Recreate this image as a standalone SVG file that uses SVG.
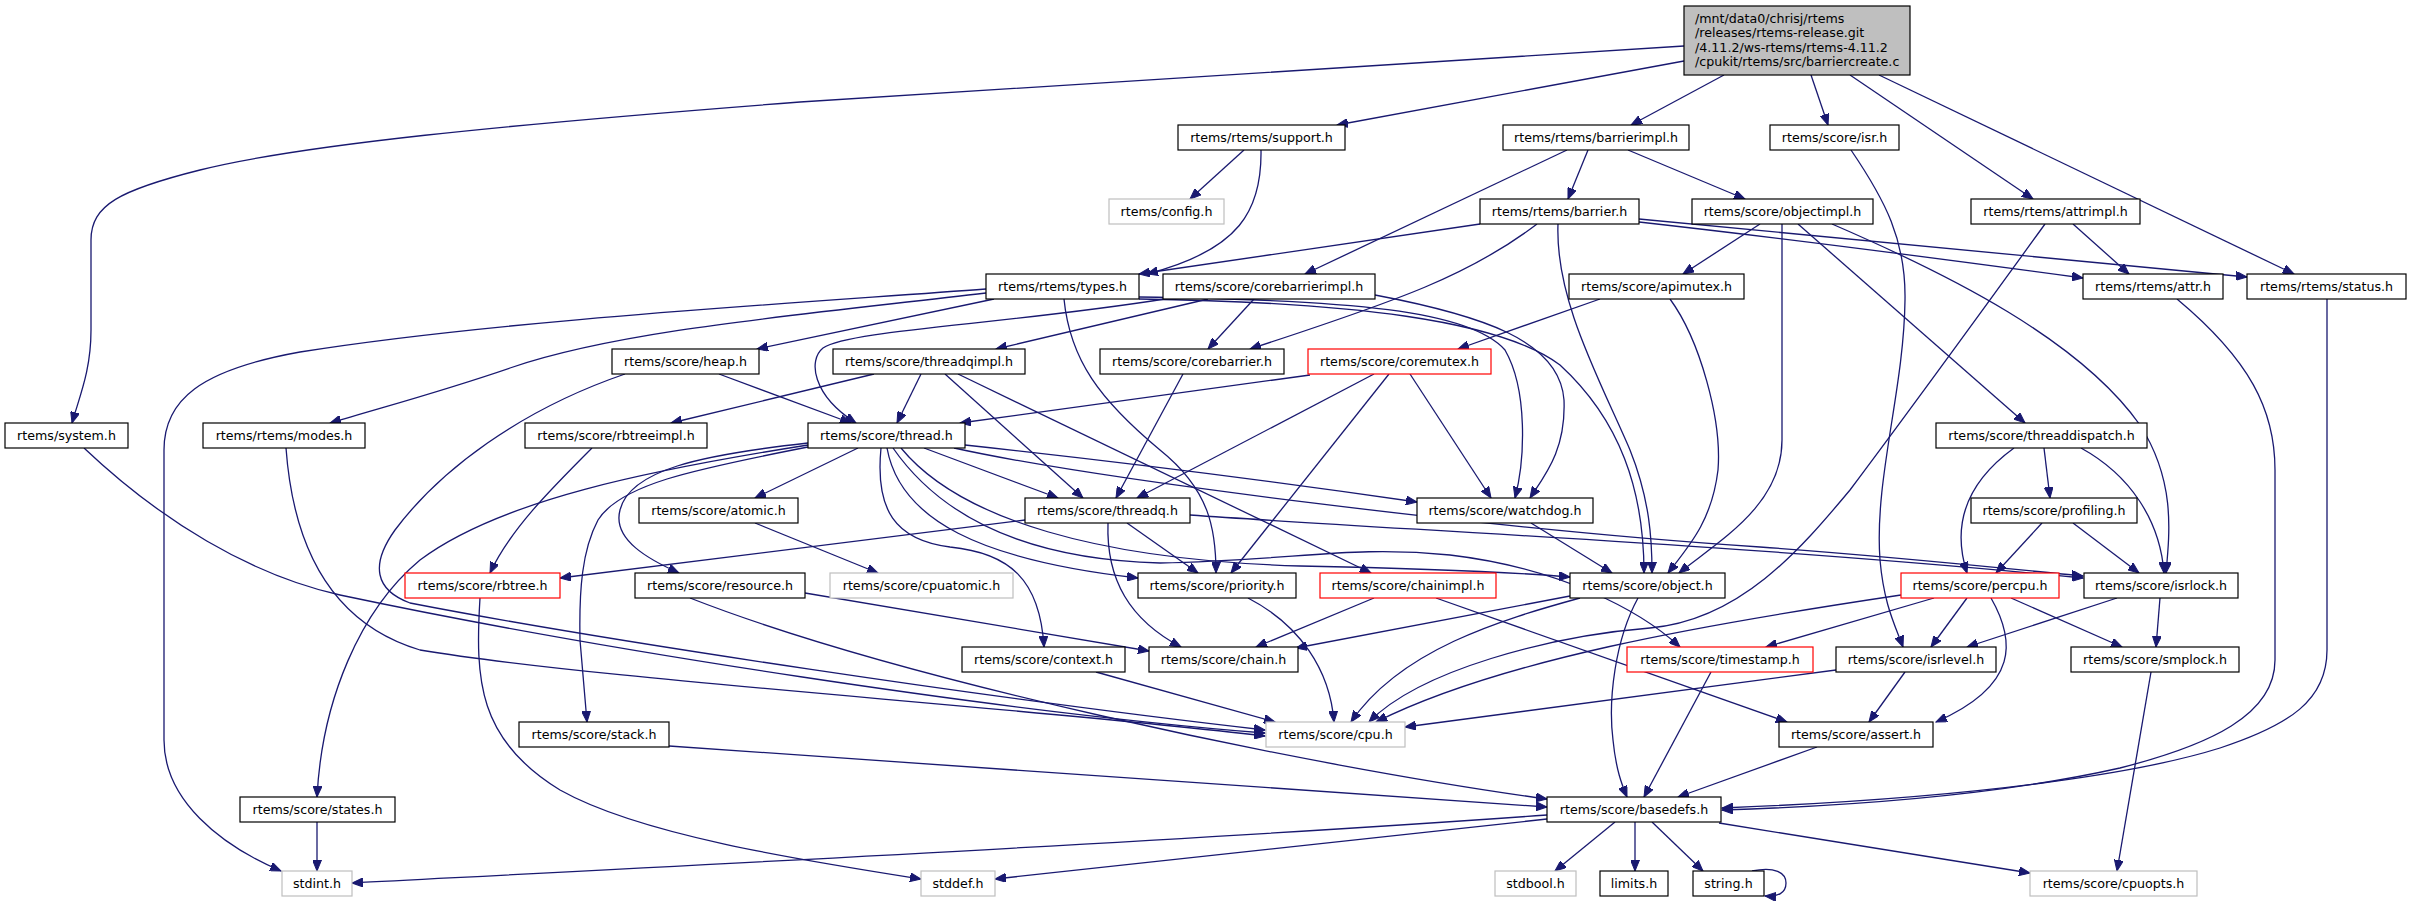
<svg xmlns="http://www.w3.org/2000/svg" width="2411" height="903" viewBox="0 0 2411 903">
<style>
rect{fill:#fff;stroke:#000;stroke-width:1.2}
rect.g{stroke:#bfbfbf}
rect.r{stroke:#ff0000}
rect.m{fill:#bfbfbf}
text{font-family:"DejaVu Sans","Liberation Sans",sans-serif;font-size:12.65px;fill:#000;text-anchor:middle}
text.l{text-anchor:start}
#edges path{fill:none;stroke:#191970;stroke-width:1.3;marker-end:url(#a)}
</style>
<defs>
<marker id="a" markerWidth="12" markerHeight="9" refX="11" refY="4.5" orient="auto" markerUnits="userSpaceOnUse"><path d="M0,0 L11,4.5 L0,9 z" fill="#191970" stroke="#191970" stroke-width="1"/></marker>
</defs>
<rect x="0" y="0" width="2411" height="903" style="fill:#fff;stroke:none"/>
<g id="edges">
<path d="M1684,46 L800,102 C500,125 300,145 200,170 C120,190 91,205 91,240 L91,330 C91,370 80,395 72,423"/>
<path d="M1684,61 L1337,125"/>
<path d="M1724,75 L1631,125"/>
<path d="M1811,75 L1828,125"/>
<path d="M1850,75 L2033,199"/>
<path d="M1879,75 L2294,274"/>
<path d="M1244,150 L1190,199"/>
<path d="M1261,150 C1262,210 1240,250 1147,274"/>
<path d="M1567,150 L1305,274"/>
<path d="M1588,150 L1568,199"/>
<path d="M1628,150 L1745,199"/>
<path d="M1851,150 C1885,200 1906,240 1905,300 C1904,390 1874,480 1880,560 C1884,605 1895,625 1903,647"/>
<path d="M2073,224 L2129,274"/>
<path d="M2045,224 C1990,300 1910,410 1850,490 C1800,550 1740,620 1650,628 C1550,636 1420,670 1369,722"/>
<path d="M2327,299 L2327,650 C2327,700 2290,725 2220,748 C2150,770 2000,797 1722,808"/>
<path d="M2177,299 C2250,360 2275,410 2275,470 L2275,660 C2275,715 2210,745 2120,768 C2000,795 1850,806 1722,810"/>
<path d="M1480,224 L1139,274"/>
<path d="M1537,224 C1470,275 1400,300 1250,349"/>
<path d="M1558,224 C1555,300 1600,380 1630,450 C1650,500 1652,540 1652,573"/>
<path d="M1639,222 C1800,240 1950,260 2083,278"/>
<path d="M1639,219 C1900,245 2100,262 2247,277"/>
<path d="M1760,224 L1683,274"/>
<path d="M1782,224 L1782,440 C1782,505 1720,540 1679,573"/>
<path d="M1798,224 L2025,423"/>
<path d="M1832,224 C1950,275 2080,340 2140,425 C2175,480 2170,530 2166,573"/>
<path d="M986,289 C800,303 500,320 300,352 C200,370 164,400 164,450 L164,740 C164,800 220,845 281,871"/>
<path d="M986,293 C800,315 620,330 510,368 C440,392 390,405 330,423"/>
<path d="M994,299 L757,349"/>
<path d="M1064,299 C1070,360 1100,400 1160,450 C1210,490 1216,530 1216,573"/>
<path d="M1139,297 C1350,300 1470,310 1505,350 C1528,390 1525,460 1515,498"/>
<path d="M1375,295 C1480,315 1560,340 1564,400 C1566,450 1545,475 1530,498"/>
<path d="M1139,299 C1350,302 1500,320 1560,365 C1620,420 1644,490 1644,573"/>
<path d="M1254,299 L1208,349"/>
<path d="M1208,299 L996,349"/>
<path d="M1165,299 C1000,325 850,330 823,348 C808,360 812,395 856,423"/>
<path d="M719,374 L851,423"/>
<path d="M625,374 C520,410 440,470 395,530 C370,565 375,590 410,603 C600,640 1000,700 1265,730"/>
<path d="M84,448 C160,520 250,575 340,595 C600,650 1000,712 1265,733"/>
<path d="M286,448 C292,530 320,620 420,650 C600,680 1000,705 1265,736"/>
<path d="M592,448 C550,490 510,530 490,573"/>
<path d="M874,374 L671,423"/>
<path d="M921,374 L897,423"/>
<path d="M945,374 L1083,498"/>
<path d="M958,374 L1371,573"/>
<path d="M1183,374 L1116,498"/>
<path d="M1310,375 L960,423"/>
<path d="M1374,374 L1137,498"/>
<path d="M1389,374 L1231,573"/>
<path d="M1410,374 L1491,498"/>
<path d="M1600,299 L1458,349"/>
<path d="M1670,299 C1700,340 1722,420 1718,470 C1712,520 1690,545 1668,573"/>
<path d="M2014,448 C1970,480 1950,520 1967,573"/>
<path d="M2044,448 L2050,498"/>
<path d="M2081,448 C2130,475 2160,520 2164,573"/>
<path d="M2042,523 L1996,573"/>
<path d="M2073,523 L2139,573"/>
<path d="M755,523 L878,573"/>
<path d="M1025,520 L560,578"/>
<path d="M1127,523 L1198,573"/>
<path d="M1108,523 C1106,580 1130,620 1181,647"/>
<path d="M1190,515 C1400,530 1750,545 2083,578"/>
<path d="M1531,523 L1612,573"/>
<path d="M858,448 L755,498"/>
<path d="M808,443 C700,455 630,470 620,510 C612,540 650,560 679,573"/>
<path d="M808,447 C690,470 620,485 598,520 C582,550 579,590 580,640 L587,722"/>
<path d="M808,445 C650,470 500,500 420,560 C360,610 322,700 317,797"/>
<path d="M881,448 C875,510 895,540 950,547 C1010,553 1040,580 1044,647"/>
<path d="M887,448 C900,520 980,560 1138,578"/>
<path d="M924,448 L1058,498"/>
<path d="M965,445 C1150,465 1300,485 1417,502"/>
<path d="M954,448 C1100,480 1500,530 1760,547 C1900,557 2000,568 2083,576"/>
<path d="M893,448 C950,530 1050,560 1160,563 C1300,560 1350,545 1450,555 C1560,568 1640,610 1680,647"/>
<path d="M901,448 C960,520 1100,560 1300,566 C1400,568 1500,571 1570,577"/>
<path d="M1248,598 C1300,625 1330,670 1334,722"/>
<path d="M1374,598 L1256,647"/>
<path d="M1436,598 L1787,722"/>
<path d="M1570,596 L1296,648"/>
<path d="M1580,598 C1500,620 1400,650 1351,722"/>
<path d="M1638,598 C1615,640 1608,700 1613,740 C1616,770 1622,785 1627,797"/>
<path d="M1901,595 C1700,625 1500,660 1376,722"/>
<path d="M1934,598 L1766,647"/>
<path d="M1967,598 L1931,647"/>
<path d="M1991,598 C2015,640 2020,685 1936,722"/>
<path d="M2011,598 L2122,647"/>
<path d="M2117,598 L1967,647"/>
<path d="M2160,598 L2156,647"/>
<path d="M1711,672 L1644,797"/>
<path d="M1836,670 L1405,727"/>
<path d="M1905,672 L1869,722"/>
<path d="M2151,672 L2117,871"/>
<path d="M1817,747 L1678,797"/>
<path d="M1096,672 L1275,722"/>
<path d="M669,746 C1000,770 1300,790 1547,807"/>
<path d="M690,598 C900,680 1300,765 1547,799"/>
<path d="M805,593 L1149,651"/>
<path d="M317,822 L317,871"/>
<path d="M480,598 C475,680 478,740 560,790 C640,835 800,860 921,879"/>
<path d="M1547,815 C1200,840 700,865 352,883"/>
<path d="M1547,819 L995,879"/>
<path d="M1615,822 L1555,871"/>
<path d="M1635,822 L1635,871"/>
<path d="M1652,822 L1703,871"/>
<path d="M1719,823 L2030,873"/>
<path d="M1752,871 C1775,866 1786,873 1786,883 C1786,893 1778,897 1765,896"/>
</g>
<g id="n_main"><rect class="m" x="1684" y="6" width="226" height="69"/><text class="l" x="1695" y="22.5">/mnt/data0/chrisj/rtems</text><text class="l" x="1695" y="37">/releases/rtems-release.git</text><text class="l" x="1695" y="51.5">/4.11.2/ws-rtems/rtems-4.11.2</text><text class="l" x="1695" y="66">/cpukit/rtems/src/barriercreate.c</text></g>
<g id="n_system"><rect x="5" y="423" width="123" height="25"/><text x="66.5" y="440">rtems/system.h</text></g>
<g id="n_support"><rect x="1178" y="125" width="167" height="25"/><text x="1261.5" y="142">rtems/rtems/support.h</text></g>
<g id="n_config"><rect class="g" x="1109" y="199" width="115" height="25"/><text x="1166.5" y="216">rtems/config.h</text></g>
<g id="n_barrierimpl"><rect x="1503" y="125" width="186" height="25"/><text x="1596" y="142">rtems/rtems/barrierimpl.h</text></g>
<g id="n_isr"><rect x="1770" y="125" width="129" height="25"/><text x="1834.5" y="142">rtems/score/isr.h</text></g>
<g id="n_attrimpl"><rect x="1971" y="199" width="169" height="25"/><text x="2055.5" y="216">rtems/rtems/attrimpl.h</text></g>
<g id="n_status"><rect x="2247" y="274" width="159" height="25"/><text x="2326.5" y="291">rtems/rtems/status.h</text></g>
<g id="n_barrier"><rect x="1480" y="199" width="159" height="25"/><text x="1559.5" y="216">rtems/rtems/barrier.h</text></g>
<g id="n_objectimpl"><rect x="1692" y="199" width="181" height="25"/><text x="1782.5" y="216">rtems/score/objectimpl.h</text></g>
<g id="n_types"><rect x="986" y="274" width="153" height="25"/><text x="1062.5" y="291">rtems/rtems/types.h</text></g>
<g id="n_corebarrierimpl"><rect x="1163" y="274" width="212" height="25"/><text x="1269" y="291">rtems/score/corebarrierimpl.h</text></g>
<g id="n_apimutex"><rect x="1569" y="274" width="175" height="25"/><text x="1656.5" y="291">rtems/score/apimutex.h</text></g>
<g id="n_attr"><rect x="2083" y="274" width="140" height="25"/><text x="2153" y="291">rtems/rtems/attr.h</text></g>
<g id="n_heap"><rect x="612" y="349" width="147" height="25"/><text x="685.5" y="366">rtems/score/heap.h</text></g>
<g id="n_threadqimpl"><rect x="833" y="349" width="192" height="25"/><text x="929" y="366">rtems/score/threadqimpl.h</text></g>
<g id="n_corebarrier"><rect x="1100" y="349" width="184" height="25"/><text x="1192" y="366">rtems/score/corebarrier.h</text></g>
<g id="n_coremutex"><rect class="r" x="1308" y="349" width="183" height="25"/><text x="1399.5" y="366">rtems/score/coremutex.h</text></g>
<g id="n_modes"><rect x="203" y="423" width="162" height="25"/><text x="284" y="440">rtems/rtems/modes.h</text></g>
<g id="n_rbtreeimpl"><rect x="525" y="423" width="182" height="25"/><text x="616" y="440">rtems/score/rbtreeimpl.h</text></g>
<g id="n_thread"><rect x="808" y="423" width="157" height="25"/><text x="886.5" y="440">rtems/score/thread.h</text></g>
<g id="n_threaddispatch"><rect x="1936" y="423" width="211" height="25"/><text x="2041.5" y="440">rtems/score/threaddispatch.h</text></g>
<g id="n_atomic"><rect x="639" y="498" width="159" height="25"/><text x="718.5" y="515">rtems/score/atomic.h</text></g>
<g id="n_threadq"><rect x="1025" y="498" width="165" height="25"/><text x="1107.5" y="515">rtems/score/threadq.h</text></g>
<g id="n_watchdog"><rect x="1417" y="498" width="176" height="25"/><text x="1505" y="515">rtems/score/watchdog.h</text></g>
<g id="n_profiling"><rect x="1971" y="498" width="166" height="25"/><text x="2054" y="515">rtems/score/profiling.h</text></g>
<g id="n_rbtree"><rect class="r" x="405" y="573" width="155" height="25"/><text x="482.5" y="590">rtems/score/rbtree.h</text></g>
<g id="n_resource"><rect x="635" y="573" width="170" height="25"/><text x="720" y="590">rtems/score/resource.h</text></g>
<g id="n_cpuatomic"><rect class="g" x="830" y="573" width="183" height="25"/><text x="921.5" y="590">rtems/score/cpuatomic.h</text></g>
<g id="n_priority"><rect x="1138" y="573" width="158" height="25"/><text x="1217" y="590">rtems/score/priority.h</text></g>
<g id="n_chainimpl"><rect class="r" x="1320" y="573" width="176" height="25"/><text x="1408" y="590">rtems/score/chainimpl.h</text></g>
<g id="n_object"><rect x="1570" y="573" width="155" height="25"/><text x="1647.5" y="590">rtems/score/object.h</text></g>
<g id="n_percpu"><rect class="r" x="1901" y="573" width="158" height="25"/><text x="1980" y="590">rtems/score/percpu.h</text></g>
<g id="n_isrlock"><rect x="2084" y="573" width="154" height="25"/><text x="2161" y="590">rtems/score/isrlock.h</text></g>
<g id="n_context"><rect x="962" y="647" width="163" height="25"/><text x="1043.5" y="664">rtems/score/context.h</text></g>
<g id="n_chain"><rect x="1149" y="647" width="149" height="25"/><text x="1223.5" y="664">rtems/score/chain.h</text></g>
<g id="n_timestamp"><rect class="r" x="1627" y="647" width="186" height="25"/><text x="1720" y="664">rtems/score/timestamp.h</text></g>
<g id="n_isrlevel"><rect x="1836" y="647" width="160" height="25"/><text x="1916" y="664">rtems/score/isrlevel.h</text></g>
<g id="n_smplock"><rect x="2071" y="647" width="168" height="25"/><text x="2155" y="664">rtems/score/smplock.h</text></g>
<g id="n_stack"><rect x="519" y="722" width="150" height="25"/><text x="594" y="739">rtems/score/stack.h</text></g>
<g id="n_cpu"><rect class="g" x="1266" y="722" width="139" height="25"/><text x="1335.5" y="739">rtems/score/cpu.h</text></g>
<g id="n_assert"><rect x="1779" y="722" width="154" height="25"/><text x="1856" y="739">rtems/score/assert.h</text></g>
<g id="n_states"><rect x="240" y="797" width="155" height="25"/><text x="317.5" y="814">rtems/score/states.h</text></g>
<g id="n_basedefs"><rect x="1547" y="797" width="174" height="25"/><text x="1634" y="814">rtems/score/basedefs.h</text></g>
<g id="n_stdint"><rect class="g" x="282" y="871" width="70" height="25"/><text x="317" y="888">stdint.h</text></g>
<g id="n_stddef"><rect class="g" x="921" y="871" width="74" height="25"/><text x="958" y="888">stddef.h</text></g>
<g id="n_stdbool"><rect class="g" x="1495" y="871" width="81" height="25"/><text x="1535.5" y="888">stdbool.h</text></g>
<g id="n_limits"><rect x="1600" y="871" width="68" height="25"/><text x="1634" y="888">limits.h</text></g>
<g id="n_string"><rect x="1693" y="871" width="71" height="25"/><text x="1728.5" y="888">string.h</text></g>
<g id="n_cpuopts"><rect class="g" x="2030" y="871" width="167" height="25"/><text x="2113.5" y="888">rtems/score/cpuopts.h</text></g>
</svg>
